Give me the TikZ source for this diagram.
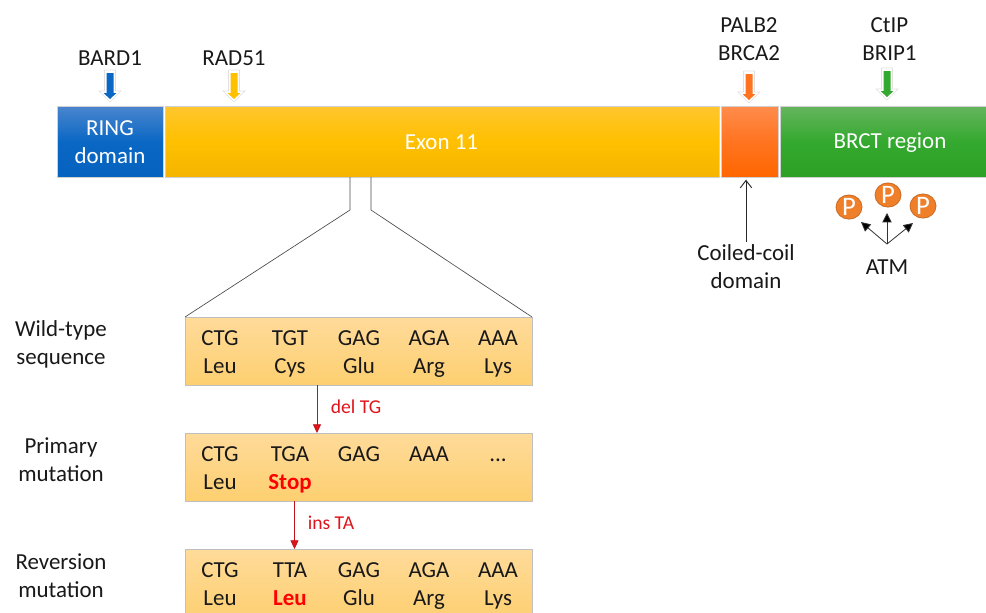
\documentclass[tikz,border=0pt]{standalone}
\usepackage{fontspec}
\setmainfont{Carlito}
\usetikzlibrary{arrows.meta,shapes.geometric}
\definecolor{bluetop}{HTML}{4A85CE}\definecolor{bluemid}{HTML}{0A68C4}\definecolor{bluebot}{HTML}{0562BF}
\definecolor{goldtop}{HTML}{FFC62E}\definecolor{goldmid}{HTML}{FFC000}\definecolor{goldbot}{HTML}{F5B400}
\definecolor{orgtop}{HTML}{FF8C4C}\definecolor{orgmid}{HTML}{FF7420}\definecolor{orgbot}{HTML}{FF6600}
\definecolor{grntop}{HTML}{66B55E}\definecolor{grnmid}{HTML}{34A92F}\definecolor{grnbot}{HTML}{2BA024}
\definecolor{seqtop}{HTML}{FFDB9A}\definecolor{seqbot}{HTML}{FDCF70}
\definecolor{pfill}{HTML}{F07F2A}\definecolor{pedge}{HTML}{C96A25}
\definecolor{mutred}{HTML}{E0141C}
\tikzset{
  x=0.75pt,y=-0.75pt,
  lbl/.style={align=center,inner sep=0pt,font=\fontsize{17.2}{21}\selectfont,text=black!90},
  barseg/.style={lbl,text=white,minimum height=71*0.75pt,inner sep=0pt,outer sep=0pt,draw=black!18,line width=0.5pt},
  seqbox/.style={draw=black!25,line width=0.5pt,top color=seqtop,bottom color=seqbot,minimum width=347*0.75pt,inner sep=0pt,outer sep=0pt},
  mutlbl/.style={lbl,text=mutred,font=\fontsize{14.7}{18}\selectfont},
  mutarrow/.style={draw=mutred!85!black,line width=0.6pt,-{Triangle[length=6.5pt,width=6pt,fill=mutred]}},
  pcirc/.style={ellipse,draw=pedge,line width=0.6pt,fill=pfill,minimum width=26*0.75pt,minimum height=22*0.75pt,inner sep=0pt,text=white,font=\fontsize{20}{21}\selectfont},
  blackarrow/.style={draw=black!80,line width=0.6pt,-{Triangle[length=7pt,width=7pt,fill=black]}},
}
\newcommand{\blockarrow}[3]{% x, top y, colour
  \fill[white] (#1-5.5,#2) -- (#1+5.5,#2) -- (#1+5.5,#2+21) -- (#1+11,#2+21) -- (#1,#2+32) -- (#1-11,#2+21) -- (#1-5.5,#2+21) -- cycle;
  \draw[black!12,line width=0.5pt] (#1-5.5,#2) -- (#1+5.5,#2) -- (#1+5.5,#2+21) -- (#1+11,#2+21) -- (#1,#2+32) -- (#1-11,#2+21) -- (#1-5.5,#2+21) -- cycle;
  \fill[#3] (#1-3.5,#2+3) -- (#1+3.5,#2+3) -- (#1+3.5,#2+23) -- (#1+6.5,#2+23) -- (#1,#2+29) -- (#1-6.5,#2+23) -- (#1-3.5,#2+23) -- cycle;
}
\newcommand{\codon}[5]{\node[lbl] (#1) at (#2,#3) {\strut #4\\\strut #5};}
\begin{document}
\begin{tikzpicture}
\clip (0,0) rectangle (986,612);
\fill[white] (0,0) rectangle (986,612);

% domain bar
\node[barseg,minimum width=106*0.75pt,top color=bluetop,bottom color=bluebot,middle color=bluemid] (ring) at (110,141.5) {};
\node[lbl,text=white] (ringlabel) at (110,142) {RING\\domain};
\node[barseg,minimum width=554*0.75pt,top color=goldtop,bottom color=goldbot,middle color=goldmid] (exon) at (442,141.5) {};
\node[lbl,text=white] (exonlabel) at (441.5,142) {Exon 11};
\node[barseg,minimum width=57*0.75pt,top color=orgtop,bottom color=orgbot,middle color=orgmid] (coil) at (749.5,141.5) {};
\node[barseg,minimum width=210*0.75pt,top color=grntop,bottom color=grnbot,middle color=grnmid] (brct) at (885,141.5) {};
\node[lbl,text=white] (brctlabel) at (890,142.5) {BRCT region};

% binding partners
\node[lbl] (bard) at (110,58) {BARD1};
\node[lbl] (rad) at (234,58) {RAD51};
\node[lbl] (palb) at (749,39) {PALB2\\BRCA2};
\node[lbl] (ctip) at (889.5,39) {CtIP\\BRIP1};
\blockarrow{110}{70}{bluemid}
\blockarrow{234}{70}{goldmid}
\blockarrow{749}{71}{orgmid}
\blockarrow{887}{68}{grnmid}

% coiled coil
\node[lbl] (coillabel) at (746,267) {Coiled-coil\\domain};
\coordinate (coilx) at (746,0);
\draw[draw=black!85,line width=0.7pt,shorten >=2pt,-{Straight Barb[length=5.5pt,width=8.5pt]}] (coillabel.north -| coilx) ++(0,-3) -- (coil.south -| coilx);

% ATM
\node[pcirc] (p1) at (849,207) {P};
\node[pcirc] (p2) at (888,195) {P};
\node[pcirc] (p3) at (923,206) {P};
\node[lbl] (atm) at (887,267) {ATM};
\coordinate (hub) at (887,244);
\coordinate (t1) at (861,222);
\coordinate (t2) at (887,213);
\coordinate (t3) at (913,223);
\draw[blackarrow] (hub) -- (t1);
\draw[blackarrow] (hub) -- (t2);
\draw[blackarrow] (hub) -- (t3);

% sequence boxes
\node[seqbox,minimum height=68*0.75pt] (box1) at (358.5,351) {};
\node[seqbox,minimum height=68*0.75pt] (box2) at (358.5,467) {};
\node[seqbox,minimum height=72*0.75pt] (box3) at (358.5,585) {};

% zoom lines
\coordinate (zl) at (350,210);
\coordinate (zr) at (371,210);
\draw[draw=black!70,line width=0.5pt] (exon.south -| zl) -- (zl) -- (box1.north west);
\draw[draw=black!70,line width=0.5pt] (exon.south -| zr) -- (zr) -- (box1.north east);

% row labels
\node[lbl] (wt) at (61,344) {Wild-type\\sequence};
\node[lbl] (prim) at (61,460) {Primary\\mutation};
\node[lbl] (rev) at (61,576) {Reversion\\mutation};

% codons
\codon{a1}{220}{354}{CTG}{Leu}
\codon{a2}{290}{354}{TGT}{Cys}
\codon{a3}{359}{354}{GAG}{Glu}
\codon{a4}{429}{354}{AGA}{Arg}
\codon{a5}{498}{354}{AAA}{Lys}
\codon{b1}{220}{470}{CTG}{Leu}
\codon{b2}{290}{470}{TGA}{\textcolor{red}{\textbf{Stop}}}
\codon{b3}{359}{470}{GAG}{}
\codon{b4}{429}{470}{AAA}{}
\codon{b5}{498}{470}{...}{}
\codon{c1}{220}{586}{CTG}{Leu}
\codon{c2}{290}{586}{TTA}{\textcolor{red}{\textbf{Leu}}}
\codon{c3}{359}{586}{GAG}{Glu}
\codon{c4}{429}{586}{AGA}{Arg}
\codon{c5}{498}{586}{AAA}{Lys}

% mutations
\coordinate (delx) at (317,0);
\coordinate (insx) at (294.5,0);
\draw[mutarrow] (box1.south -| delx) -- (box2.north -| delx);
\draw[mutarrow] (box2.south -| insx) -- (box3.north -| insx);
\node[mutlbl] (del) at (356,407) {del TG};
\node[mutlbl] (ins) at (331,523) {ins TA};
\end{tikzpicture}
\end{document}
